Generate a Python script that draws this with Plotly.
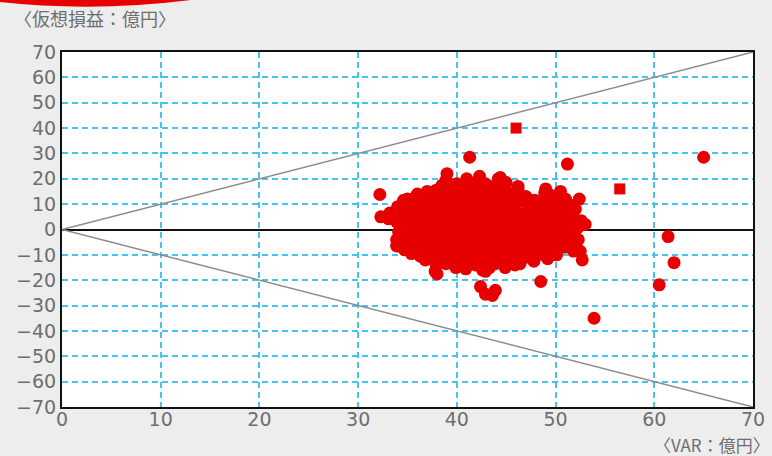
import plotly.graph_objects as go

# VaR (x, 億円) and hypothetical P&L (y, 億円), one pair per business day
var_values = [
    32.2, 32.3, 33.2, 33.5, 33.9, 33.1, 33.9,
    34.0, 34.2, 34.5, 34.3, 34.1, 34.7, 34.6,
    35.0, 35.3, 35.2, 35.5, 35.1, 35.4, 35.8,
    36.0, 36.4, 36.2, 36.6, 36.1, 36.5, 36.3, 36.8,
    37.0, 37.3, 37.6, 37.1, 37.4, 37.7, 37.2, 37.5, 37.9,
    38.0, 38.5, 38.3, 38.6, 38.2, 38.8, 38.4, 38.1, 38.7, 38.0,
    39.0, 39.3, 39.6, 39.2, 39.8, 39.4, 39.1, 39.7, 39.5, 39.9,
    40.0, 40.3, 40.6, 40.2, 40.8, 40.4, 40.1, 40.7, 40.5, 40.9, 40.3,
    41.3, 41.0, 41.4, 41.7, 41.2, 41.8, 41.5, 41.1, 41.6, 41.3, 41.9, 41.0,
    42.3, 42.0, 42.6, 42.2, 42.8, 42.4, 42.1, 42.7, 42.5, 42.0, 42.6, 42.4, 42.9,
    43.0, 43.4, 43.7, 43.2, 43.8, 43.5, 43.1, 43.6, 43.3, 43.6, 43.9, 43.4,
    44.2, 44.0, 44.5, 44.8, 44.3, 44.6, 44.1, 44.7, 44.4, 44.9,
    45.0, 45.3, 45.6, 45.2, 45.8, 45.4, 45.1, 45.7, 45.5, 45.9,
    46.2, 46.5, 46.0, 46.7, 46.3, 46.8, 46.1, 46.6, 46.4,
    47.0, 47.4, 47.7, 47.2, 47.5, 47.9, 47.3, 47.8,
    48.2, 48.6, 48.1, 48.8, 48.4, 48.0, 48.5, 48.9,
    49.3, 49.6, 49.1, 49.8, 49.4, 49.0, 49.7, 49.2,
    50.4, 50.0, 50.7, 50.2, 50.8, 50.5, 50.1,
    51.2, 51.0, 51.4, 51.6, 51.2, 51.7,
    52.4, 52.0, 52.6, 52.2, 52.5, 52.7, 52.3,
    53.0, 53.9,
    60.5, 61.4, 62.0, 65.0,
    33.9, 33.9, 34.1, 34.2,
    34.9, 34.9, 34.9, 34.9, 34.9,
    35.8, 35.8, 35.8, 35.8, 35.8, 35.8,
    36.9, 36.9, 36.9, 36.9, 36.9, 36.9, 36.9,
    37.9, 37.9, 37.9, 37.9, 37.9, 37.9, 37.9, 37.9, 37.8,
    38.9, 38.9, 38.9, 38.9, 38.9, 38.9, 38.9, 38.9, 38.9,
    39.9, 39.9, 39.9, 39.9, 39.9, 39.9, 39.9, 39.9, 39.9,
    40.9, 40.9, 40.9, 40.9, 40.9, 40.9, 40.9, 40.9,
    41.9, 41.9, 41.9, 41.9, 41.9, 41.9, 41.9, 41.9, 41.9,
    42.9, 42.9, 42.9, 42.9, 42.9, 42.9, 42.9, 42.9, 42.9, 42.9,
    43.9, 43.9, 43.9, 43.9, 43.9, 43.9, 43.9, 43.9, 43.9,
    44.9, 44.9, 44.9, 44.9, 44.9, 44.9, 44.9, 44.9, 44.9,
    45.9, 45.9, 45.9, 45.9, 45.9, 45.9, 45.9, 45.9,
    46.9, 46.9, 46.9, 46.9, 46.9, 46.9, 46.9,
    47.9, 47.9, 47.9, 47.9, 47.9, 47.9, 47.9,
    48.9, 48.9, 48.9, 48.9, 48.9, 48.9, 48.9,
    49.9, 49.9, 49.9, 49.9, 49.9, 49.9,
    50.9, 50.9, 50.9, 50.9, 50.9,
    51.8, 51.8, 51.8, 51.8,
    44.4, 46.2, 49.0, 50.5,
]
pnl_values = [
    13.8, 5.0, 6.5, 4.5, -4.0, 4.2, -6.5,
    9.0, 5.5, 1.0, -2.2, -6.5, -8.0, 11.5,
    12.0, 7.0, 3.5, -0.5, -4.0, -9.5, 0.2,
    14.0, 10.5, 5.0, 2.0, -2.5, -6.0, -10.5, -12.0,
    15.0, 11.0, 6.5, 3.0, -1.0, -4.5, -8.0, -11.5, -14.0,
    13.0, 17.5, 9.0, 4.5, 0.5, -3.0, -6.5, -10.0, -13.0, -17.5,
    22.0, 15.5, 11.0, 7.5, 3.0, -1.5, -5.0, -8.5, -12.0, -15.0,
    18.0, 13.5, 9.5, 6.0, 1.5, -2.0, -6.0, -9.5, -13.0, -15.5, 0.0,
    28.5, 20.0, 15.0, 11.0, 7.0, 3.5, -0.5, -4.0, -7.5, -11.0, -14.0, 1.5,
    21.0, 16.5, 12.5, 8.0, 4.0, 0.5, -3.0, -6.5, -10.0, -13.5, -16.0, -22.5, -25.5,
    15.5, 11.0, 7.0, 3.0, -1.0, -4.5, -8.0, -11.5, -15.0, -26.0, -24.0, 2.0,
    20.0, 13.5, 9.5, 5.5, 1.5, -2.5, -6.0, -9.5, -13.0, -15.0,
    18.5, 14.0, 10.0, 6.5, 2.5, -1.0, -4.5, -8.0, -11.5, -14.0,
    15.5, 11.5, 7.0, 3.5, 0.0, -3.5, -7.0, -10.5, -13.5,
    13.0, 8.5, 4.5, 1.0, -2.5, -6.0, -9.5, -12.5,
    9.5, 5.0, 1.5, -2.0, -5.5, -9.0, -20.5, 14.5,
    14.0, 10.0, 6.0, 2.0, -1.5, -5.0, -8.5, -11.5,
    14.0, 9.0, 5.5, 1.0, -2.5, -6.5, -10.0,
    25.8, 12.0, 7.0, 2.5, -1.5, -5.0,
    12.0, 8.0, 3.5, 0.5, -8.6, -12.0, -4.0,
    2.0, -35.0,
    -21.8, -2.8, -13.1, 28.5,
    7.5, 3.0, -1.0, -4.5,
    9.5, 5.0, 1.5, -2.0, -6.0,
    12.5, 8.5, 4.0, -1.5, -5.0, -8.0,
    12.5, 8.5, 4.5, 0.5, -3.5, -7.0, -10.0,
    15.5, 11.5, 7.0, 2.5, -2.0, -5.5, -9.0, -12.0, -16.5,
    19.5, 13.0, 9.0, 5.0, 1.0, -3.5, -7.0, -10.5, -13.5,
    16.0, 11.5, 8.0, 4.0, 0.0, -4.0, -7.5, -11.0, -13.5,
    17.0, 13.0, 9.0, 5.0, -1.0, -5.0, -8.5, -12.0,
    18.5, 14.5, 10.0, 6.0, 2.0, -2.0, -5.0, -9.0, -12.5,
    18.0, 13.5, 9.5, 5.5, 1.0, -2.5, -6.5, -10.0, -13.0, -16.5,
    17.5, 12.5, 8.5, 4.5, 0.5, -3.0, -6.5, -10.5, -13.5,
    16.5, 12.0, 8.0, 4.0, 0.0, -3.5, -7.0, -10.5, -12.5,
    13.0, 9.0, 5.0, 1.5, -2.0, -5.5, -9.0, -12.0,
    11.0, 6.5, 2.5, -1.0, -4.5, -8.0, -11.0,
    11.5, 7.0, 3.0, -0.5, -4.0, -7.5, -11.0,
    11.0, 7.5, 3.5, 0.0, -3.5, -7.0, -10.0,
    11.5, 7.0, 3.5, -0.5, -4.5, -8.0,
    9.5, 4.5, 0.5, -3.0, -7.0,
    9.5, 5.0, -2.5, -8.5,
    20.5, 17.0, 16.0, 15.0,
]

# days plotted with square markers
square_var = [46.0, 56.5]
square_pnl = [40.0, 16.0]

# reference lines P&L = ±VaR
diag_x = [0, 70]
diag_up = [0, 70]
diag_down = [0, -70]

x_ticks = [0, 10, 20, 30, 40, 50, 60, 70]
y_ticks = [-70, -60, -50, -40, -30, -20, -10, 0, 10, 20, 30, 40, 50, 60, 70]

RED = "#e60000"
GRID = "#46c3ef"
TEXT = "#6e6e6e"

fig = go.Figure()
for yd in (diag_up, diag_down):
    fig.add_trace(go.Scatter(x=diag_x, y=yd, mode="lines",
                             line=dict(color="#8c8c8c", width=1.5),
                             hoverinfo="skip"))
fig.add_trace(go.Scatter(x=var_values, y=pnl_values, mode="markers",
                         marker=dict(symbol="circle", size=13, color=RED,
                                     line=dict(width=0))))
fig.add_trace(go.Scatter(x=square_var, y=square_pnl, mode="markers",
                         marker=dict(symbol="square", size=11, color=RED,
                                     line=dict(width=0))))

# plot-area geometry in pixels (for the decorative header shape and labels)
L, R, T, B = 62, 19, 52, 49
W, H = 772, 456
pw, ph = W - L - R, H - T - B


def px(xp):
    return (xp - L) / pw


def py(yp):
    return (H - B - yp) / ph


arc = (f"M {px(0)},{py(-2)} L {px(0)},{py(2)} "
       f"Q {px(100)},{py(13)} {px(206)},{py(-2)} Z")

tick_font = dict(family="DejaVu Sans", size=19, color=TEXT)
axis_common = dict(
    showgrid=True, gridcolor=GRID, gridwidth=1.6, griddash="6px,4px",
    showline=True, linecolor="#111111", linewidth=2, mirror=True,
    ticks="", tickfont=tick_font, fixedrange=True, automargin=False,
)

fig.update_layout(
    width=W, height=H,
    margin=dict(l=L, r=R, t=T, b=B, autoexpand=False),
    paper_bgcolor="#ededed",
    plot_bgcolor="white",
    showlegend=False,
    xaxis=dict(range=[0, 70], tickvals=x_ticks, zeroline=False,
               ticklabelstandoff=-6, **axis_common),
    yaxis=dict(range=[-70, 70], tickvals=y_ticks, zeroline=True,
               zerolinecolor="#111111", zerolinewidth=2,
               ticklabelstandoff=0, **axis_common),
    shapes=[dict(type="path", path=arc, xref="paper", yref="paper",
                 fillcolor=RED, line=dict(width=0), layer="above")],
    annotations=[
        dict(text="〈仮想損益：億円〉", xref="paper", yref="paper",
             x=px(12), y=py(18), xanchor="left", yanchor="middle",
             showarrow=False,
             font=dict(family="Noto Sans CJK JP", size=18, color=TEXT)),
        dict(text="〈VAR：億円〉", xref="paper", yref="paper",
             x=px(652), y=py(444), xanchor="left", yanchor="middle",
             showarrow=False,
             font=dict(family="Noto Sans CJK JP", size=17, color=TEXT)),
    ],
)

fig.write_html("out.html")
